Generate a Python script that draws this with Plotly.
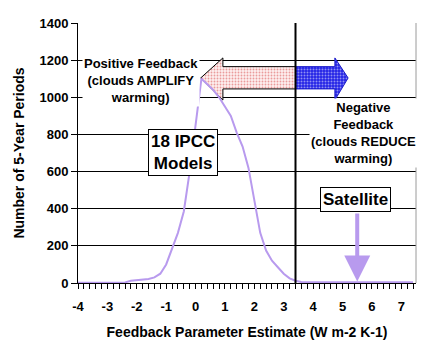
import plotly.graph_objects as go

# ---- data ----
feedback_param = [-4.0, -3.8, -3.6, -3.4, -3.2, -3.0, -2.8, -2.6, -2.4, -2.2, -2.0, -1.8, -1.6, -1.4,
                  -1.2, -1.0, -0.8, -0.6, -0.4, -0.2, 0.0, 0.2, 0.4, 0.6, 0.8, 1.0, 1.2, 1.4, 1.6,
                  1.8, 2.0, 2.2, 2.4, 2.6, 2.8, 3.0, 3.2, 3.4, 3.6, 3.8, 4.0, 4.2, 4.4, 4.6, 4.8,
                  5.0, 5.2, 5.4, 5.6, 5.8, 6.0, 6.2, 6.4, 6.6, 6.8, 7.0, 7.2, 7.4]
ipcc_periods = [1, 1, 1, 1, 1, 1, 1, 1, 3, 12, 15, 20, 22, 30,
                50, 100, 185, 270, 385, 600, 850, 1100, 1070, 1040, 1000, 950, 900, 810, 735,
                620, 440, 270, 175, 120, 85, 50, 25, 12, 5, 4, 4, 4, 4, 4, 4,
                4, 4, 4, 4, 4, 4, 4, 4, 4, 4, 4, 4, 4]
satellite_estimate = 5.5
threshold = 3.4

x_ticks = [-4, -3, -2, -1, 0, 1, 2, 3, 4, 5, 6, 7]
x_tick_labels = ["-4", "-3", "-2", "-1", "0", "1", "2", "3", "4", "5", "6", "7"]
y_ticks = [0, 200, 400, 600, 800, 1000, 1200, 1400]

FONT = "Liberation Sans, Arial, sans-serif"
CURVE = "#B89AEE"

fig = go.Figure()

# big feedback arrows (decorations)
pos_arrow_x = [0.175, 0.93, 0.93, threshold, threshold, 0.93, 0.93, 0.175]
pos_arrow_y = [1104, 1212, 1165, 1165, 1045, 1045, 985, 1104]
neg_arrow_x = [threshold, 4.74, 4.74, 5.19, 4.74, 4.74, threshold, threshold]
neg_arrow_y = [1165, 1165, 1212, 1104, 985, 1045, 1045, 1165]

fig.add_trace(go.Scatter(
    x=pos_arrow_x, y=pos_arrow_y, mode="lines", fill="toself",
    line=dict(color="black", width=1),
    fillcolor="#fdeeee",
    fillpattern=dict(shape=".", bgcolor="#fdeeee", fgcolor="#d84848", size=3, solidity=0.3),
    hoverinfo="skip", showlegend=False))
fig.add_trace(go.Scatter(
    x=neg_arrow_x, y=neg_arrow_y, mode="lines", fill="toself",
    line=dict(color="#1a1ac8", width=1),
    fillcolor="#2a2ae0",
    fillpattern=dict(shape=".", bgcolor="#2323e6", fgcolor="#ffffff", size=3, solidity=0.35),
    hoverinfo="skip", showlegend=False))

# model distribution curve
fig.add_trace(go.Scatter(
    x=feedback_param, y=ipcc_periods, mode="lines",
    line=dict(color=CURVE, width=2), showlegend=False, name="18 IPCC Models"))

# threshold vertical line
fig.add_shape(type="line", x0=threshold, x1=threshold, y0=0, y1=1400,
              xref="x", yref="y", line=dict(color="black", width=2))
# plot area right border
fig.add_shape(type="line", x0=1, x1=1, y0=0, y1=1, xref="paper", yref="paper",
              line=dict(color="#9a9a9a", width=1))

bold = dict(family=FONT, size=13, color="black", weight="bold")

fig.add_annotation(x=-1.86, y=1093, xref="x", yref="y", showarrow=False,
                   text="Positive Feedback<br>(clouds AMPLIFY<br>warming)",
                   font=bold, bgcolor="white", borderpad=1)
fig.add_annotation(x=5.7, y=808, xref="x", yref="y", showarrow=False,
                   text="Negative<br>Feedback<br>(clouds REDUCE<br>warming)",
                   font=bold, bgcolor="white", borderpad=1)
fig.add_annotation(x=-0.44, y=705, xref="x", yref="y", showarrow=False,
                   text="18 IPCC<br>Models",
                   font=dict(family=FONT, size=17, color="black", weight="bold"),
                   bgcolor="white", bordercolor="black", borderwidth=1, borderpad=2)
fig.add_annotation(x=5.44, y=447, xref="x", yref="y", showarrow=False,
                   text="Satellite",
                   font=dict(family=FONT, size=17, color="black", weight="bold"),
                   bgcolor="white", bordercolor="black", borderwidth=1, borderpad=2)
# satellite arrow
fig.add_annotation(x=satellite_estimate, y=8, ax=satellite_estimate, ay=382,
                   xref="x", yref="y", axref="x", ayref="y", text="",
                   showarrow=True, arrowhead=2, arrowsize=1.3, arrowwidth=4,
                   arrowcolor=CURVE, standoff=0)

# page body has an 8px default margin, so the figure is 8px smaller than the window
fig.update_layout(
    width=424, height=352,
    margin=dict(l=70, r=16, t=15, b=77),
    paper_bgcolor="white", plot_bgcolor="white",
    font=dict(family=FONT, color="black"),
    xaxis=dict(
        range=[-4, 7.5], tickvals=x_ticks, ticktext=x_tick_labels,
        ticks="outside", ticklen=5, tickcolor="black",
        showline=True, linecolor="black", linewidth=1, showgrid=False, zeroline=False,
        ticklabelstandoff=6,
        tickfont=dict(family=FONT, size=13, color="black", weight="bold"),
        minor=dict(dtick=0.2, tick0=-4, ticks="outside", ticklen=5, tickcolor="black", showgrid=False),
        title=dict(text="Feedback Parameter Estimate (W m-2 K-1)", standoff=14,
                   font=dict(family=FONT, size=14, color="black", weight="bold")),
        automargin=False),
    yaxis=dict(
        range=[0, 1400], tickvals=y_ticks, ticks="outside", ticklen=6, tickcolor="black",
        showline=True, linecolor="black", linewidth=1, showgrid=True, gridcolor="black",
        gridwidth=1, zeroline=False,
        tickfont=dict(family=FONT, size=13, color="black", weight="bold"),
        title=dict(text="Number of 5-Year Periods", standoff=11,
                   font=dict(family=FONT, size=14, color="black", weight="bold")),
        automargin=False),
)

fig.write_html("out.html")
